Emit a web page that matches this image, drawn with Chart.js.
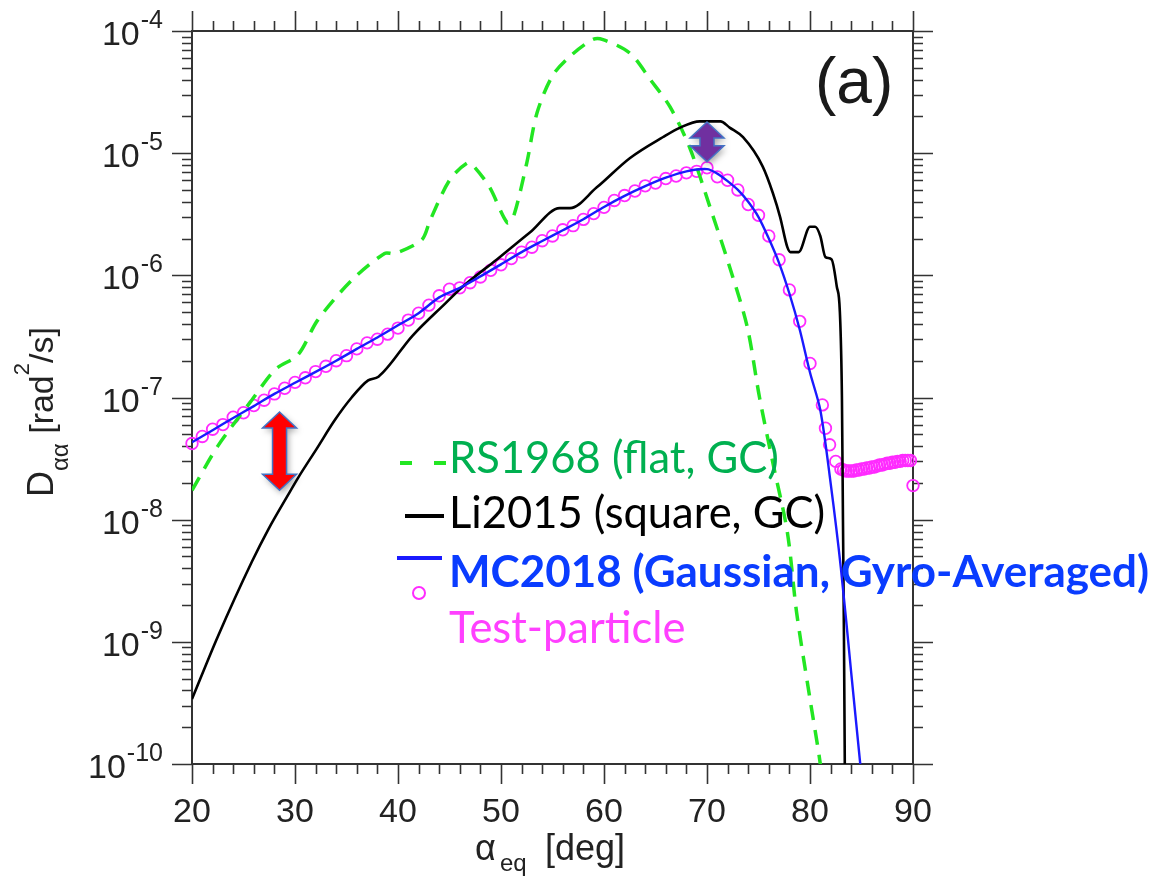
<!DOCTYPE html>
<html>
<head>
<meta charset="utf-8">
<script src="https://cdn.jsdelivr.net/npm/chart.js@4.4.1/dist/chart.umd.min.js"></script>
<style>
  html, body { margin: 0; padding: 0; background: #fff; }
  canvas { display: block; }
</style>
</head>
<body>
<canvas id="daaChart" width="1153" height="880"></canvas>
<script>
// Pitch-angle diffusion coefficient D_aa [rad^2/s] vs equatorial pitch angle [deg]

// RS1968 (flat, GC)
const rsAngle = [20, 22.5, 25.8, 28.1, 30.3, 32.2, 35.5, 38.7, 39.7, 42.3, 43.1, 45, 46.7, 47.3, 48.9, 50.6, 51.2, 52.5, 53.5, 55, 56.7, 58.9, 59.9, 62.5, 64.5, 66.4, 68.3, 70.3, 72.2, 73.9, 75.1, 76.4, 77.8, 78.7, 80, 81, 81.5];
const rsD = [1.74e-8, 4.0e-8, 9.5e-8, 1.7e-7, 2.24e-7, 4.3e-7, 9.1e-7, 1.51e-6, 1.51e-6, 1.95e-6, 2.8e-6, 6.0e-6, 8.3e-6, 7.9e-6, 5.25e-6, 2.7e-6, 3.0e-6, 8.3e-6, 2.14e-5, 4.3e-5, 6.2e-5, 8.5e-5, 8.5e-5, 6.6e-5, 4.0e-5, 2.4e-5, 1.12e-5, 3.6e-6, 1.17e-6, 3.8e-7, 1.0e-7, 2.9e-8, 7.9e-9, 1.74e-9, 3.4e-10, 1.0e-10, 4e-11];

// Li2015 (square, GC)
const liAngle = [20, 22.5, 25.8, 27.4, 29.3, 30.3, 32.1, 33.9, 35.5, 37.1, 38.1, 41.4, 44.6, 46.3, 49.6, 52.8, 55.7, 56.7, 59.3, 62.5, 65.7, 67.4, 69.3, 71.3, 72.2, 73.5, 75.4, 76.4, 77.1, 77.8, 78.1, 78.9, 80, 80.5, 81, 81.5, 82.1, 82.6, 82.9, 83.1, 83.2, 83.3, 83.4];
const liD = [3.4e-10, 1.1e-9, 4.5e-9, 8.3e-9, 1.58e-8, 2.2e-8, 3.8e-8, 6.6e-8, 1.0e-7, 1.38e-7, 1.48e-7, 3.2e-7, 5.9e-7, 8.1e-7, 1.35e-6, 2.24e-6, 3.55e-6, 3.55e-6, 5.25e-6, 9.1e-6, 1.35e-5, 1.62e-5, 1.82e-5, 1.82e-5, 1.62e-5, 1.35e-5, 7.8e-6, 4.7e-6, 3.0e-6, 1.7e-6, 1.55e-6, 1.55e-6, 2.5e-6, 2.5e-6, 2.1e-6, 1.41e-6, 1.35e-6, 8.1e-7, 5e-7, 1e-7, 1e-8, 1e-9, 5e-11];

// MC2018 (Gaussian, gyro-averaged)
const mcAngle = [20, 22, 24, 26, 28, 30, 32, 34, 36, 38, 40, 42, 44, 46, 48, 50, 52, 54, 56, 58, 60, 62, 64, 66, 68, 70, 71, 72, 73, 74, 75, 76, 77, 78, 79, 80, 81, 82, 83, 84, 85];
const mcD = [4.3e-8, 5.4e-8, 6.8e-8, 8.5e-8, 1.07e-7, 1.32e-7, 1.62e-7, 2.0e-7, 2.5e-7, 3.1e-7, 3.9e-7, 4.9e-7, 6.6e-7, 7.9e-7, 9.8e-7, 1.23e-6, 1.55e-6, 1.91e-6, 2.34e-6, 2.88e-6, 3.63e-6, 4.47e-6, 5.37e-6, 6.3e-6, 7.1e-6, 7.4e-6, 6.8e-6, 5.9e-6, 5.0e-6, 4.0e-6, 3.0e-6, 2.0e-6, 1.26e-6, 7.1e-7, 3.6e-7, 1.6e-7, 7.9e-8, 2.0e-8, 4.0e-9, 5.6e-10, 7.9e-11];

// Test-particle results
const tpAngle = [20, 21, 22, 23, 24, 25, 26, 27, 28, 29, 30, 31, 32, 33, 34, 35, 36, 37, 38, 39, 40, 41, 42, 43, 44, 45, 46, 47, 48, 49, 50, 51, 52, 53, 54, 55, 56, 57, 58, 59, 60, 61, 62, 63, 64, 65, 66, 67, 68, 69, 70, 71, 72, 73, 74, 75, 76, 77, 78, 79, 80, 81.2, 81.5, 81.9, 82.5,
  83, 83.25, 83.5, 83.75, 84, 84.25, 84.5, 84.75, 85, 85.25, 85.5, 85.75, 86, 86.25, 86.5, 86.75, 87, 87.25, 87.5, 87.75, 88, 88.25, 88.5, 88.75, 89, 89.25, 89.5, 89.75, 90];
const tpD = [4.2e-8, 4.8e-8, 5.5e-8, 6.0e-8, 6.9e-8, 7.5e-8, 8.6e-8, 9.5e-8, 1.07e-7, 1.19e-7, 1.33e-7, 1.45e-7, 1.63e-7, 1.8e-7, 2.0e-7, 2.2e-7, 2.5e-7, 2.8e-7, 3.0e-7, 3.3e-7, 3.7e-7, 4.3e-7, 4.9e-7, 5.7e-7, 6.8e-7, 7.7e-7, 7.9e-7, 8.7e-7, 9.7e-7, 1.1e-6, 1.22e-6, 1.37e-6, 1.55e-6, 1.7e-6, 1.92e-6, 2.1e-6, 2.36e-6, 2.55e-6, 2.87e-6, 3.2e-6, 3.6e-6, 4.1e-6, 4.5e-6, 4.9e-6, 5.4e-6, 5.7e-6, 6.2e-6, 6.5e-6, 6.9e-6, 7.1e-6, 7.6e-6, 6.4e-6, 6.0e-6, 5.0e-6, 3.8e-6, 3.1e-6, 2.1e-6, 1.34e-6, 7.6e-7, 4.2e-7, 1.9e-7, 8.7e-8, 5.6e-8, 4.1e-8, 3.0e-8,
  2.6e-8, 2.55e-8, 2.5e-8, 2.5e-8, 2.5e-8, 2.5e-8, 2.55e-8, 2.55e-8, 2.6e-8, 2.6e-8, 2.65e-8, 2.65e-8, 2.7e-8, 2.7e-8, 2.75e-8, 2.8e-8, 2.8e-8, 2.85e-8, 2.9e-8, 2.9e-8, 2.95e-8, 2.95e-8, 3.0e-8, 3.0e-8, 3.05e-8, 3.05e-8, 3.05e-8, 3.05e-8, 1.9e-8];

// axis ticks
const xTicks = [20, 30, 40, 50, 60, 70, 80, 90];
const yExponents = [-10, -9, -8, -7, -6, -5, -4];

// double arrows marking the gap between curves
const arrowAngle = [28.5, 70];
const arrowTop = [7.6e-8, 1.8e-5];
const arrowBottom = [1.74e-8, 8.5e-6];
const arrowFill = ['#ff0000', '#7030a0'];

const legendLabels = ['RS1968 (flat, GC)', 'Li2015 (square, GC)', 'MC2018 (Gaussian, Gyro-Averaged)', 'Test-particle'];

const toPoints = (xs, ys) => xs.map((v, i) => ({ x: v, y: ys[i] }));

const GREEN = '#22e622';
const MAGENTA = '#ff2bff';
const BLUE = '#1a1aff';
const AXIS = '#333333';
const TICK_FONT = '"Liberation Sans", Arial, sans-serif';
const LEGEND_FONT = 'Lato, "Open Sans", sans-serif';

// frame, ticks and axis titles
const framePlugin = {
  id: 'frame',
  beforeDatasetsDraw(chart) {
    const { ctx, chartArea: a, scales: { x, y } } = chart;
    ctx.save();
    ctx.strokeStyle = AXIS;
    ctx.lineWidth = 2;
    ctx.strokeRect(a.left, a.top, a.right - a.left, a.bottom - a.top);

    ctx.lineWidth = 1.6;
    ctx.beginPath();
    for (let v = xTicks[0]; v <= xTicks[xTicks.length - 1]; v += 2) {
      const px = Math.round(x.getPixelForValue(v)) + 0.5;
      const len = xTicks.includes(v) ? 20 : 10;
      ctx.moveTo(px, a.bottom); ctx.lineTo(px, a.bottom + len);
      ctx.moveTo(px, a.top); ctx.lineTo(px, a.top - len);
    }
    yExponents.forEach(e => {
      for (let k = 1; k <= 9; k++) {
        if (e === yExponents[yExponents.length - 1] && k > 1) break;
        const py = Math.round(y.getPixelForValue(k * Math.pow(10, e))) + 0.5;
        const len = k === 1 ? 20 : 10;
        ctx.moveTo(a.left, py); ctx.lineTo(a.left - len, py);
        ctx.moveTo(a.right, py); ctx.lineTo(a.right + len, py);
      }
    });
    ctx.stroke();

    // tick labels
    ctx.fillStyle = '#222';
    ctx.textBaseline = 'alphabetic';
    ctx.font = '34px ' + TICK_FONT;
    ctx.textAlign = 'center';
    xTicks.forEach(v => ctx.fillText(String(v), x.getPixelForValue(v), a.bottom + 58));

    yExponents.forEach(e => {
      const py = y.getPixelForValue(Math.pow(10, e));
      const sup = '-' + Math.abs(e);
      ctx.font = '25px ' + TICK_FONT;
      const sw = ctx.measureText(sup).width;
      const right = a.left - 29;
      ctx.textAlign = 'left';
      ctx.fillText(sup, right - sw, py - 3);
      ctx.font = '34px ' + TICK_FONT;
      ctx.textAlign = 'right';
      ctx.fillText('10', right - sw - 1, py + 14);
    });

    // x axis title
    ctx.textAlign = 'left';
    ctx.font = '36px ' + TICK_FONT;
    ctx.fillText('\u03b1', 475, 860);
    ctx.font = '24px ' + TICK_FONT;
    ctx.fillText('eq', 500, 871);
    ctx.font = '36px ' + TICK_FONT;
    ctx.fillText('[deg]', 545, 860);

    // y axis title, rotated
    ctx.translate(53, 497);
    ctx.rotate(-Math.PI / 2);
    let cx = 0;
    const part = (txt, size, dy) => {
      ctx.font = size + 'px ' + TICK_FONT;
      ctx.fillText(txt, cx, dy);
      cx += ctx.measureText(txt).width;
    };
    part('D', 36, 0);
    part('\u03b1\u03b1', 24, 15);
    part(' [rad', 34, 0);
    part('2', 22, -24);
    part('/s]', 34, 0);
    ctx.restore();
  }
};

function drawDoubleArrow(ctx, cx, top, bottom, headW, shaftW, headH, fill) {
  ctx.save();
  ctx.shadowColor = 'rgba(0,0,0,0.35)';
  ctx.shadowBlur = 6;
  ctx.shadowOffsetX = 2;
  ctx.shadowOffsetY = 3;
  ctx.beginPath();
  ctx.moveTo(cx, top);
  ctx.lineTo(cx + headW / 2, top + headH);
  ctx.lineTo(cx + shaftW / 2, top + headH);
  ctx.lineTo(cx + shaftW / 2, bottom - headH);
  ctx.lineTo(cx + headW / 2, bottom - headH);
  ctx.lineTo(cx, bottom);
  ctx.lineTo(cx - headW / 2, bottom - headH);
  ctx.lineTo(cx - shaftW / 2, bottom - headH);
  ctx.lineTo(cx - shaftW / 2, top + headH);
  ctx.lineTo(cx - headW / 2, top + headH);
  ctx.closePath();
  ctx.fillStyle = fill;
  ctx.fill();
  ctx.shadowColor = 'transparent';
  ctx.strokeStyle = '#4472c4';
  ctx.lineWidth = 1.5;
  ctx.stroke();
  ctx.restore();
}

// arrows, panel tag and legend on top of the curves
const overlayPlugin = {
  id: 'overlay',
  afterDatasetsDraw(chart) {
    const { ctx, scales: { x, y } } = chart;
    arrowAngle.forEach((ang, i) => {
      drawDoubleArrow(ctx, x.getPixelForValue(ang), y.getPixelForValue(arrowTop[i]),
        y.getPixelForValue(arrowBottom[i]), 34, 14, 16, arrowFill[i]);
    });

    ctx.save();
    ctx.fillStyle = '#1a1a1a';
    ctx.font = '64px ' + TICK_FONT;
    ctx.textAlign = 'left';
    ctx.textBaseline = 'alphabetic';
    ctx.fillText('(a)', 815, 103);

    // legend samples
    ctx.lineWidth = 4;
    ctx.strokeStyle = GREEN;
    ctx.setLineDash([12, 22]);
    ctx.beginPath(); ctx.moveTo(400, 463); ctx.lineTo(446, 463); ctx.stroke();
    ctx.setLineDash([]);
    ctx.strokeStyle = '#000';
    ctx.beginPath(); ctx.moveTo(405, 516); ctx.lineTo(444, 516); ctx.stroke();
    ctx.strokeStyle = BLUE;
    ctx.beginPath(); ctx.moveTo(397, 558); ctx.lineTo(442, 558); ctx.stroke();
    ctx.lineWidth = 2;
    ctx.strokeStyle = MAGENTA;
    ctx.beginPath(); ctx.arc(419, 593, 6, 0, Math.PI * 2); ctx.stroke();

    // legend text
    const colors = ['#00b050', '#000000', '#0a3cff', '#ff40ff'];
    const fonts = ['400 43.5px ', '400 43.5px ', '700 44px ', '400 43.5px '];
    const baselines = [473, 528, 587, 643];
    legendLabels.forEach((t, i) => {
      ctx.font = fonts[i] + LEGEND_FONT;
      ctx.fillStyle = colors[i];
      ctx.fillText(t, 449, baselines[i]);
    });
    ctx.restore();
  }
};

window.onload = function() {
  const ctx = document.getElementById('daaChart').getContext('2d');
  new Chart(ctx, {
    type: 'scatter',
    data: {
      datasets: [
        {
          label: legendLabels[2],
          data: toPoints(mcAngle, mcD),
          showLine: true,
          borderColor: BLUE,
          borderWidth: 2.4,
          pointRadius: 0,
          tension: 0.3,
          order: 0
        },
        {
          label: legendLabels[1],
          data: toPoints(liAngle, liD),
          showLine: true,
          borderColor: '#000000',
          borderWidth: 2.6,
          pointRadius: 0,
          cubicInterpolationMode: 'monotone',
          order: 1
        },
        {
          label: legendLabels[0],
          data: toPoints(rsAngle, rsD),
          showLine: true,
          borderColor: GREEN,
          borderWidth: 3.5,
          borderDash: [15, 10],
          pointRadius: 0,
          tension: 0.3,
          order: 2
        },
        {
          label: legendLabels[3],
          data: toPoints(tpAngle, tpD),
          showLine: false,
          pointStyle: 'circle',
          pointRadius: 5.8,
          pointBorderWidth: 1.8,
          pointBorderColor: MAGENTA,
          pointBackgroundColor: 'rgba(0,0,0,0)',
          clip: false,
          order: 3
        }
      ]
    },
    options: {
      responsive: false,
      animation: false,
      events: [],
      layout: { padding: { left: 192, right: 240, top: 31, bottom: 116 } },
      scales: {
        x: { type: 'linear', min: 20, max: 90, display: false },
        y: { type: 'logarithmic', min: 1e-10, max: 1e-4, display: false }
      },
      plugins: {
        legend: { display: false },
        tooltip: { enabled: false }
      }
    },
    plugins: [framePlugin, overlayPlugin]
  });
};
</script>
</body>
</html>
